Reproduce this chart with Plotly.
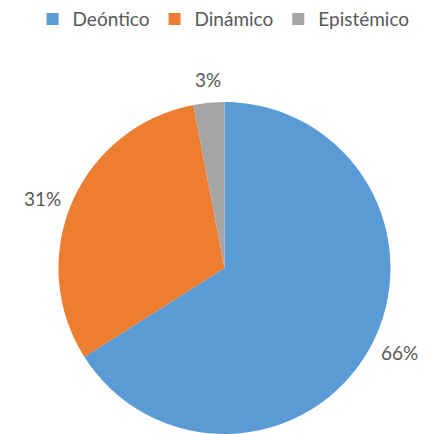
import math
import plotly.graph_objects as go

categories = ["Deóntico", "Dinámico", "Epistémico"]
percentages = [66, 31, 3]
colors = ["#5B9BD5", "#ED7D31", "#A5A5A5"]

W, H = 426, 434
OFF = 8  # page body margin
CX, CY, R = 224.5 - OFF, 268 - OFF, 166  # pie centre / radius in figure pixels
LABEL_R = 176

fig = go.Figure()

fig.add_trace(
    go.Pie(
        labels=categories,
        values=percentages,
        sort=False,
        direction="clockwise",
        rotation=0,
        marker=dict(colors=colors, line=dict(width=0)),
        textinfo="none",
        domain=dict(x=[(CX - R) / W, (CX + R) / W], y=[(H - CY - R) / H, (H - CY + R) / H]),
        showlegend=True,
        hoverinfo="label+percent",
    )
)

# percentage labels outside the pie, placed at each slice's mid angle
total = sum(percentages)
start = 0
for v in percentages:
    mid = (start + v / 2) / total * 2 * math.pi
    start += v
    px = CX + LABEL_R * math.sin(mid)
    py = CY - LABEL_R * math.cos(mid)
    s = math.sin(mid)
    if abs(s) < 0.3:
        xa, ya = "center", "bottom"
    elif s > 0:
        xa, ya = "left", "middle"
    else:
        xa, ya = "right", "middle"
    fig.add_annotation(
        x=px / W,
        y=1 - py / H,
        xref="paper",
        yref="paper",
        text=f"{v}%",
        showarrow=False,
        xanchor=xa,
        yanchor=ya,
        font=dict(size=19, color="#595959"),
    )

fig.update_layout(
    width=W,
    height=H,
    margin=dict(l=0, r=0, t=0, b=0, autoexpand=False),
    paper_bgcolor="white",
    font=dict(family="Lato, sans-serif", color="#595959"),
    legend=dict(
        orientation="h",
        x=0.506,
        xanchor="center",
        y=1.018,
        yanchor="top",
        font=dict(size=19, color="#595959"),
        itemclick=False,
    ),
)

fig.write_html("out.html")
